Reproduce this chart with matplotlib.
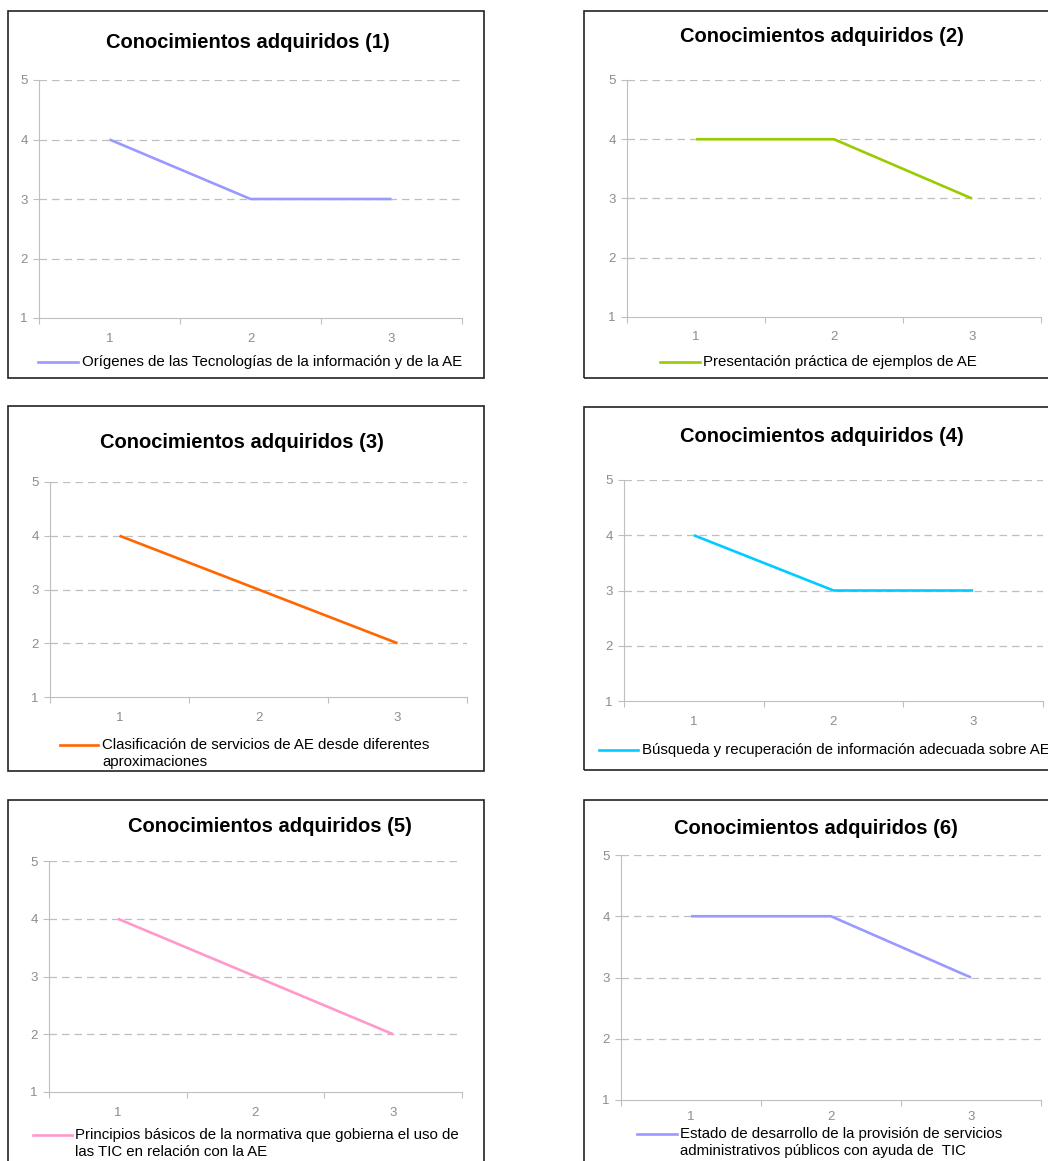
import matplotlib.pyplot as plt
from matplotlib.lines import Line2D
from matplotlib.patches import Rectangle

plt.rcParams['font.family'] = ['Liberation Sans', 'DejaVu Sans']

W, H = 1048, 1161

# Survey rounds and average score per topic
rounds = [1, 2, 3]
titles = ["Conocimientos adquiridos (1)", "Conocimientos adquiridos (2)",
          "Conocimientos adquiridos (3)", "Conocimientos adquiridos (4)",
          "Conocimientos adquiridos (5)", "Conocimientos adquiridos (6)"]
labels = ["Orígenes de las Tecnologías de la información y de la AE",
          "Presentación práctica de ejemplos de AE",
          "Clasificación de servicios de AE desde diferentes\naproximaciones",
          "Búsqueda y recuperación de información adecuada sobre AE",
          "Principios básicos de la normativa que gobierna el uso de\nlas TIC en relación con la AE",
          "Estado de desarrollo de la provisión de servicios\nadministrativos públicos con ayuda de  TIC"]
scores1 = [4, 3, 3]
scores2 = [4, 4, 3]
scores3 = [4, 3, 2]
scores4 = [4, 3, 3]
scores5 = [4, 3, 2]
scores6 = [4, 4, 3]
colors = ["#9999FF", "#99CC00", "#FF6600", "#00CCFF", "#FF99CC", "#9999FF"]

# layout in pixels: frame box, plot area, title centre, legend, tick label pad
frames = [(8, 484, 11, 378), (584, 1100, 11, 378),
          (8, 484, 406, 771), (584, 1100, 407, 770),
          (8, 484, 800, 1175), (584, 1100, 800, 1175)]
plot_areas = [(39, 462, 80, 318), (627, 1041, 80, 317),
              (50, 467, 482, 697), (624, 1043, 480, 701),
              (49, 462, 861, 1092), (621, 1041, 855, 1100)]
title_pos = [(248, 42), (822, 37), (242, 442), (822, 436), (270, 827), (816, 828)]
legend_pos = [(38, 78, 82, 362), (660, 700, 703, 362),
              (60, 98, 102, 745), (599, 638, 642, 750),
              (33, 72, 75, 1135), (637, 677, 680, 1134)]
x_pads = [11, 10, 11, 11, 11, 8]


def fx(x):
    return x / W


def fy(y):
    return 1 - y / H


fig = plt.figure(figsize=(W / 100, H / 100), dpi=100)
fig.patch.set_facecolor("white")

all_scores = [scores1, scores2, scores3, scores4, scores5, scores6]
for i, scores in enumerate(all_scores):
    l, r, t, b = frames[i]
    fig.add_artist(Rectangle((fx(l), fy(b)), fx(r - l), (b - t) / H,
                             transform=fig.transFigure, fill=False,
                             edgecolor="#222222", linewidth=1.2))

    al, ar, at, ab = plot_areas[i]
    ax = fig.add_axes([fx(al), fy(ab), fx(ar - al), (ab - at) / H])
    ax.plot(rounds, scores, color=colors[i], linewidth=1.9, solid_capstyle="butt")
    ax.set_xlim(0.5, 3.5)
    ax.set_ylim(1, 5)
    ax.set_xticks([0.5, 1.5, 2.5, 3.5])
    ax.set_xticklabels([])
    ax.set_xticks(rounds, minor=True)
    ax.set_xticklabels([str(v) for v in rounds], minor=True)
    ax.tick_params(axis="x", which="minor", length=0, pad=x_pads[i])
    ax.tick_params(axis="x", which="major", length=4, color="#BFBFBF")
    ax.set_yticks([1, 2, 3, 4, 5])
    ax.tick_params(axis="y", length=4, color="#BFBFBF", pad=4)
    ax.tick_params(which="both", labelsize=9.5, labelcolor="#8C8C8C")
    for y in [2, 3, 4, 5]:
        ax.axhline(y, color="#BFBFBF", linestyle=(0, (6, 4)), linewidth=0.9, zorder=0)
    for side in ["top", "right"]:
        ax.spines[side].set_visible(False)
    for side in ["left", "bottom"]:
        ax.spines[side].set_color("#BFBFBF")
    ax.patch.set_alpha(0)

    cx, cy = title_pos[i]
    fig.text(fx(cx), fy(cy), titles[i], ha="center", va="center",
             fontsize=14.5, fontweight="bold")

    x0, x1, tx, ly = legend_pos[i]
    fig.add_artist(Line2D([fx(x0), fx(x1)], [fy(ly), fy(ly)], transform=fig.transFigure,
                          color=colors[i], linewidth=1.9))
    if "\n" in labels[i]:
        fig.text(fx(tx), fy(ly - 7), labels[i], ha="left", va="top",
                 fontsize=10.8, linespacing=1.3)
    else:
        fig.text(fx(tx), fy(ly), labels[i], ha="left", va="center", fontsize=10.8)

fig.savefig("out.png", dpi=100)
